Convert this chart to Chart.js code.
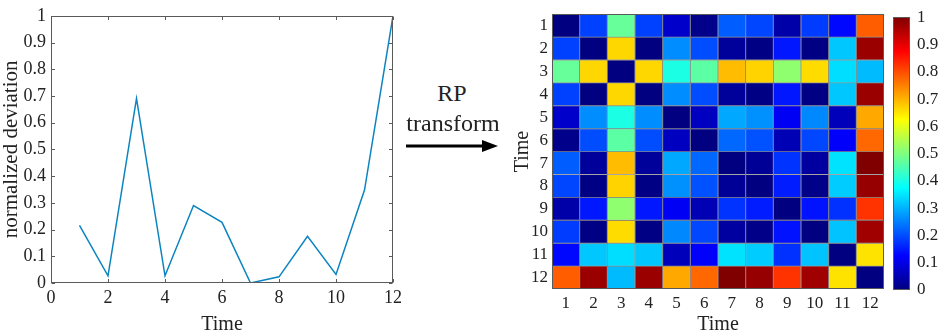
<!DOCTYPE html>
<html>
<head>
<meta charset="utf-8">
<script src="https://cdn.jsdelivr.net/npm/chart.js@4.4.1/dist/chart.umd.min.js"></script>
<style>
    body { margin: 0; background: #fff; width: 941px; height: 335px; overflow: hidden; position: relative; font-family: "Liberation Serif", serif; }
    canvas, svg, .lbl { position: absolute; }
    .lbl { font-size: 24px; color: #222; line-height: 24px; transform: translate(-50%, -50%); white-space: nowrap; }
</style>
</head>
<body>
<canvas id="lineChart" width="420" height="335" style="left:0;top:0"></canvas>
<div class="lbl" style="left:452px;top:93px">RP</div>
<div class="lbl" style="left:453px;top:123px">transform</div>
<svg width="941" height="335" style="left:0;top:0">
    <line x1="406" y1="146" x2="484" y2="146" stroke="#000" stroke-width="3"></line>
    <polygon points="498,146 482,140 482,152" fill="#000"></polygon>
</svg>
<canvas id="rpChart" width="395" height="335" style="left:500px;top:0"></canvas>
<canvas id="colorBar" width="61" height="335" style="left:880px;top:0"></canvas>
<script>
// line plot data
const timeSteps = [1, 2, 3, 4, 5, 6, 7, 8, 9, 10, 11, 12];
const deviation = [0.216, 0.027, 0.691, 0.027, 0.290, 0.227, 0.0, 0.023, 0.175, 0.032, 0.348, 1.0];
const lineXTicks = [0, 2, 4, 6, 8, 10, 12];
const lineYTicks = [0, 0.1, 0.2, 0.3, 0.4, 0.5, 0.6, 0.7, 0.8, 0.9, 1];

// recurrence plot (rows = time, columns = time)
const rpLabels = ['1', '2', '3', '4', '5', '6', '7', '8', '9', '10', '11', '12'];
const rpRow1  = [0, 0.189, 0.475, 0.189, 0.074, 0.011, 0.216, 0.193, 0.041, 0.184, 0.132, 0.784];
const rpRow2  = [0.189, 0, 0.664, 0, 0.263, 0.200, 0.027, 0.004, 0.148, 0.005, 0.321, 0.973];
const rpRow3  = [0.475, 0.664, 0, 0.664, 0.401, 0.464, 0.691, 0.668, 0.516, 0.659, 0.343, 0.309];
const rpRow4  = [0.189, 0, 0.664, 0, 0.263, 0.200, 0.027, 0.004, 0.148, 0.005, 0.321, 0.973];
const rpRow5  = [0.074, 0.263, 0.401, 0.263, 0, 0.063, 0.290, 0.267, 0.115, 0.258, 0.058, 0.710];
const rpRow6  = [0.011, 0.200, 0.464, 0.200, 0.063, 0, 0.227, 0.204, 0.052, 0.195, 0.121, 0.773];
const rpRow7  = [0.216, 0.027, 0.691, 0.027, 0.290, 0.227, 0, 0.023, 0.175, 0.032, 0.348, 1];
const rpRow8  = [0.193, 0.004, 0.668, 0.004, 0.267, 0.204, 0.023, 0, 0.152, 0.009, 0.325, 0.977];
const rpRow9  = [0.041, 0.148, 0.516, 0.148, 0.115, 0.052, 0.175, 0.152, 0, 0.143, 0.173, 0.825];
const rpRow10 = [0.184, 0.005, 0.659, 0.005, 0.258, 0.195, 0.032, 0.009, 0.143, 0, 0.316, 0.968];
const rpRow11 = [0.132, 0.321, 0.343, 0.321, 0.058, 0.121, 0.348, 0.325, 0.173, 0.316, 0, 0.652];
const rpRow12 = [0.784, 0.973, 0.309, 0.973, 0.710, 0.773, 1, 0.977, 0.825, 0.968, 0.652, 0];
const rpRows = [rpRow1, rpRow2, rpRow3, rpRow4, rpRow5, rpRow6, rpRow7, rpRow8, rpRow9, rpRow10, rpRow11, rpRow12];
const colorBarTicks = [0, 0.1, 0.2, 0.3, 0.4, 0.5, 0.6, 0.7, 0.8, 0.9, 1];

const serif = "'Liberation Serif', 'Times New Roman', serif";
const textColor = '#222';
const axisColor = '#5a5a5a';

// matlab style jet colormap
function jet(v) {
    const c = x => Math.round(255 * Math.max(0, Math.min(1, x)));
    return `rgb(${c(1.5 - Math.abs(4 * v - 3))},${c(1.5 - Math.abs(4 * v - 2))},${c(1.5 - Math.abs(4 * v - 1))})`;
}

// box round the plot area + inward tick marks
const axesBox = {
    id: 'axesBox',
    afterDatasetsDraw(chart, args, opts) {
        const ctx = chart.ctx;
        const a = chart.chartArea;
        const l = Math.round(a.left) + 0.5, r = Math.round(a.right) - 0.5;
        const t = Math.round(a.top) + 0.5, b = Math.round(a.bottom) - 0.5;
        ctx.save();
        ctx.strokeStyle = opts.color || axisColor;
        ctx.lineWidth = 1;
        ctx.strokeRect(l, t, r - l, b - t);
        const len = opts.tickLen || 0;
        if (len) {
            ctx.beginPath();
            chart.scales.x.ticks.forEach(tk => {
                const px = Math.round(chart.scales.x.getPixelForValue(tk.value)) + 0.5;
                ctx.moveTo(px, b); ctx.lineTo(px, b - len);
                ctx.moveTo(px, t); ctx.lineTo(px, t + len);
            });
            chart.scales.y.ticks.forEach(tk => {
                const py = Math.round(chart.scales.y.getPixelForValue(tk.value)) + 0.5;
                ctx.moveTo(l, py); ctx.lineTo(l + len, py);
                ctx.moveTo(r, py); ctx.lineTo(r - len, py);
            });
            ctx.stroke();
        }
        ctx.restore();
    }
};

const noGrid = { display: false, drawTicks: false };

// LEFT: normalized deviation line
new Chart(document.getElementById('lineChart'), {
    type: 'line',
    data: {
        datasets: [{
            data: timeSteps.map((t, i) => ({ x: t, y: deviation[i] })),
            borderColor: '#0b84c0',
            borderWidth: 1.5,
            pointRadius: 0,
            tension: 0
        }]
    },
    options: {
        responsive: false,
        animation: false,
        layout: { padding: { left: 0, right: 27, top: 14, bottom: 0 } },
        plugins: { legend: { display: false }, tooltip: { enabled: false }, axesBox: { tickLen: 3.5 } },
        scales: {
            x: {
                type: 'linear', min: 0, max: 12,
                afterBuildTicks: s => { s.ticks = lineXTicks.map(v => ({ value: v })); },
                afterFit: s => { s.height = 52; },
                grid: noGrid,
                border: { display: false },
                ticks: { color: textColor, font: { family: serif, size: 18 }, padding: 4, maxRotation: 0 },
                title: { display: true, text: 'Time', color: textColor, font: { family: serif, size: 20, lineHeight: 1 }, padding: { top: 0, bottom: 0 } }
            },
            y: {
                min: 0, max: 1,
                afterBuildTicks: s => { s.ticks = lineYTicks.map(v => ({ value: v })); },
                afterFit: s => { s.width = 51; },
                grid: noGrid,
                border: { display: false },
                ticks: { color: textColor, font: { family: serif, size: 18 }, padding: 5, callback: v => String(+v.toFixed(1)) },
                title: { display: true, text: 'normalized deviation', color: textColor, font: { family: serif, size: 21, lineHeight: 1.1 }, padding: { top: 0, bottom: 0 } }
            }
        }
    },
    plugins: [axesBox]
});

// RIGHT: recurrence plot as stacked unit bars, one dataset per row
new Chart(document.getElementById('rpChart'), {
    type: 'bar',
    data: {
        labels: rpLabels,
        datasets: rpRows.map((row, r) => ({
            label: rpLabels[r],
            data: row.map(() => 1),
            backgroundColor: row.map(jet),
            borderColor: 'rgba(50,50,50,0.45)',
            borderWidth: 0.8,
            borderSkipped: false,
            barPercentage: 1,
            categoryPercentage: 1
        }))
    },
    options: {
        responsive: false,
        animation: false,
        layout: { padding: { left: 0, right: 11, top: 6, bottom: 0 } },
        plugins: { legend: { display: false }, tooltip: { enabled: false }, axesBox: { tickLen: 0 } },
        scales: {
            x: {
                stacked: true,
                afterFit: s => { s.height = 46; },
                grid: noGrid,
                border: { display: false },
                ticks: { color: textColor, font: { family: serif, size: 17 }, padding: 4, maxRotation: 0, autoSkip: false },
                title: { display: true, text: 'Time', color: textColor, font: { family: serif, size: 20, lineHeight: 1 }, padding: { top: 0, bottom: 0 } }
            },
            y: {
                stacked: true, min: 0, max: 12, reverse: true,
                afterBuildTicks: s => { s.ticks = rpLabels.map((l, i) => ({ value: i + 0.5 })); },
                afterFit: s => { s.width = 52; },
                grid: noGrid,
                border: { display: false },
                ticks: { color: textColor, font: { family: serif, size: 17 }, padding: 4, autoSkip: false, callback: (v, i) => rpLabels[i] },
                title: { display: true, text: 'Time', color: textColor, font: { family: serif, size: 20, lineHeight: 1.2 }, padding: { top: 11, bottom: 0 } }
            }
        }
    },
    plugins: [axesBox]
});

// colour bar
new Chart(document.getElementById('colorBar'), {
    type: 'bar',
    data: {
        labels: ['scale'],
        datasets: [{
            data: [[colorBarTicks[0], colorBarTicks[colorBarTicks.length - 1]]],
            backgroundColor: c => {
                const a = c.chart.chartArea;
                if (!a) return jet(0.5);
                const g = c.chart.ctx.createLinearGradient(0, a.bottom, 0, a.top);
                for (let i = 0; i <= 32; i++) g.addColorStop(i / 32, jet(i / 32));
                return g;
            },
            barPercentage: 1,
            categoryPercentage: 1
        }]
    },
    options: {
        responsive: false,
        animation: false,
        layout: { padding: { left: 13, right: 0, top: 6, bottom: 45 } },
        plugins: { legend: { display: false }, tooltip: { enabled: false }, axesBox: { tickLen: 0 } },
        scales: {
            x: { display: false },
            y: {
                position: 'right', min: 0, max: 1,
                afterBuildTicks: s => { s.ticks = colorBarTicks.map(v => ({ value: v })); },
                afterFit: s => { s.width = 31; },
                grid: noGrid,
                border: { display: false },
                ticks: { color: textColor, font: { family: serif, size: 17 }, padding: 7, callback: v => String(+v.toFixed(1)) }
            }
        }
    },
    plugins: [axesBox]
});
</script>
</body>
</html>
